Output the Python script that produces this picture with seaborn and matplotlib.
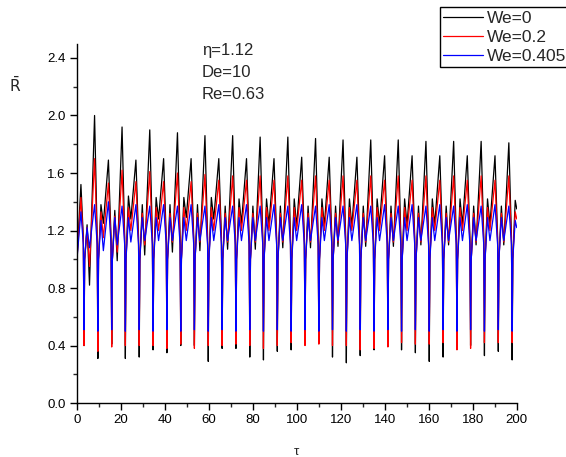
import matplotlib
matplotlib.use("Agg")
import matplotlib.pyplot as plt
from matplotlib.ticker import MultipleLocator, FormatStrFormatter
import seaborn as sns
import pandas as pd

# ---------------------------------------------------------------
# values
# ---------------------------------------------------------------
# times of the sharp collapses (minima)
collapse_t = [3.2, 9.5, 15.8, 22.0, 28.3, 34.6, 40.9, 47.2, 53.4, 59.7,
              66.0, 72.3, 78.6, 84.8, 91.1, 97.4, 103.7, 110.0, 116.2, 122.5,
              128.8, 135.1, 141.4, 147.6, 153.9, 160.2, 166.5, 172.8, 179.0, 185.3,
              191.6, 197.9]
# position of the bump / dip / main peak inside one cycle (tau)
edge_off = 0.3   # the collapse itself is almost vertical
bump_off = 1.4
dip_off = 2.5
peak_off = 1.5   # before next collapse

# We = 0 (black)
blk_first = 1.52
blk_min = [0.40, 0.31, 0.41, 0.31, 0.32, 0.37, 0.35, 0.40, 0.40, 0.29,
           0.38, 0.38, 0.32, 0.30, 0.36, 0.37, 0.41, 0.42, 0.32, 0.28,
           0.33, 0.37, 0.40, 0.37, 0.35, 0.29, 0.32, 0.39, 0.40, 0.33,
           0.36, 0.30]
blk_bump = [1.24, 1.38, 1.34, 1.44, 1.38, 1.43, 1.38, 1.43, 1.38, 1.43,
            1.37, 1.42, 1.37, 1.42, 1.37, 1.42, 1.37, 1.42, 1.37, 1.42,
            1.37, 1.42, 1.37, 1.42, 1.37, 1.42, 1.37, 1.42, 1.37, 1.42,
            1.37, 1.41]
blk_dip = [0.82, 1.25, 0.99, 1.28, 1.03, 1.28, 1.05, 1.29, 1.06, 1.28,
           1.07, 1.25, 1.07, 1.24, 1.08, 1.23, 1.08, 1.23, 1.09, 1.23,
           1.09, 1.24, 1.09, 1.24, 1.10, 1.24, 1.10, 1.24, 1.10, 1.24,
           1.10]
blk_peak = [2.00, 1.69, 1.92, 1.69, 1.90, 1.70, 1.88, 1.70, 1.86, 1.70,
            1.86, 1.70, 1.85, 1.70, 1.85, 1.71, 1.84, 1.71, 1.83, 1.71,
            1.83, 1.72, 1.83, 1.72, 1.82, 1.72, 1.82, 1.72, 1.82, 1.72,
            1.81]
blk_pre, blk_post = 1.15, 1.00
blk_end = 1.35

# We = 0.2 (red)
red_first = 1.43
red_min = [0.40, 0.36, 0.39, 0.40, 0.40, 0.40, 0.38, 0.41, 0.38, 0.40,
           0.40, 0.41, 0.40, 0.38, 0.40, 0.42, 0.40, 0.41, 0.40, 0.40,
           0.37, 0.38, 0.39, 0.42, 0.41, 0.41, 0.42, 0.37, 0.38, 0.42,
           0.42, 0.42]
red_bump = [1.22, 1.33, 1.30, 1.36, 1.32, 1.36, 1.32, 1.36, 1.32, 1.36,
            1.32, 1.36, 1.32, 1.36, 1.32, 1.36, 1.32, 1.36, 1.32, 1.36,
            1.32, 1.36, 1.32, 1.36, 1.32, 1.36, 1.32, 1.36, 1.32, 1.36,
            1.32, 1.33]
red_dip = [0.95, 1.15, 1.05, 1.20, 1.10, 1.20, 1.12, 1.20, 1.12, 1.20,
           1.12, 1.20, 1.12, 1.20, 1.12, 1.20, 1.12, 1.20, 1.12, 1.20,
           1.12, 1.20, 1.12, 1.20, 1.12, 1.20, 1.12, 1.20, 1.12, 1.20,
           1.12]
red_peak = [1.70, 1.53, 1.62, 1.54, 1.61, 1.54, 1.60, 1.54, 1.59, 1.55,
            1.58, 1.55, 1.58, 1.55, 1.58, 1.55, 1.58, 1.55, 1.58, 1.55,
            1.58, 1.55, 1.58, 1.55, 1.58, 1.55, 1.58, 1.55, 1.58, 1.55,
            1.58]
red_pre, red_post = 1.12, 1.00
red_end = 1.28

# We = 0.405 (blue)
blu_first = 1.33
blu_min = [0.51, 0.50, 0.51, 0.50, 0.51, 0.50, 0.51, 0.50, 0.51, 0.50,
           0.51, 0.50, 0.51, 0.50, 0.51, 0.50, 0.51, 0.50, 0.51, 0.50,
           0.51, 0.50, 0.51, 0.50, 0.51, 0.50, 0.51, 0.50, 0.51, 0.50,
           0.51, 0.50]
blu_bump = [1.22, 1.27, 1.29, 1.29, 1.29, 1.29, 1.29, 1.29, 1.29, 1.29,
            1.29, 1.29, 1.29, 1.29, 1.29, 1.29, 1.29, 1.29, 1.29, 1.29,
            1.29, 1.29, 1.29, 1.29, 1.29, 1.29, 1.29, 1.29, 1.29, 1.29,
            1.29, 1.27]
blu_dip = [1.08, 1.06, 1.10, 1.12, 1.13, 1.13, 1.13, 1.13, 1.13, 1.13,
           1.13, 1.13, 1.13, 1.13, 1.13, 1.13, 1.13, 1.13, 1.13, 1.13,
           1.13, 1.13, 1.13, 1.13, 1.13, 1.13, 1.13, 1.13, 1.13, 1.13,
           1.13]
blu_peak = [1.38, 1.40, 1.37, 1.38, 1.37, 1.38, 1.37, 1.38, 1.37, 1.38,
            1.37, 1.38, 1.37, 1.38, 1.37, 1.38, 1.37, 1.38, 1.37, 1.38,
            1.37, 1.38, 1.37, 1.38, 1.37, 1.38, 1.37, 1.38, 1.37, 1.38,
            1.37]
blu_pre, blu_post = 1.10, 1.00
blu_end = 1.22

labels = ['We=0', 'We=0.2', 'We=0.405']
colores = {'We=0': 'black', 'We=0.2': 'red', 'We=0.405': 'blue'}


def armar(nombre, first, mins, bumps, dips, peaks, pre, post, end):
    t = [0.0, 1.8]
    r = [1.0, first]
    for k, tc in enumerate(collapse_t):
        t += [tc - edge_off, tc, tc + edge_off, tc + bump_off]
        r += [pre, mins[k], post, bumps[k]]
        if k < len(peaks):
            t += [tc + dip_off, collapse_t[k + 1] - peak_off]
            r += [dips[k], peaks[k]]
    t.append(200.0)
    r.append(end)
    return pd.DataFrame({'tau': t, 'R': r, 'We': nombre})


df = pd.concat([
    armar('We=0', blk_first, blk_min, blk_bump, blk_dip, blk_peak,
          blk_pre, blk_post, blk_end),
    armar('We=0.2', red_first, red_min, red_bump, red_dip, red_peak,
          red_pre, red_post, red_end),
    armar('We=0.405', blu_first, blu_min, blu_bump, blu_dip, blu_peak,
          blu_pre, blu_post, blu_end),
], ignore_index=True)

# ---------------------------------------------------------------
# plot
# ---------------------------------------------------------------
sns.set_style('ticks')
plt.rcParams['font.family'] = ['Liberation Sans', 'DejaVu Sans']
plt.rcParams['mathtext.fontset'] = 'dejavusans'

fig = plt.figure(figsize=(5.66, 4.57), dpi=100)
ax = fig.add_axes([0.136, 0.118, 0.777, 0.7866])

sns.lineplot(data=df, x='tau', y='R', hue='We', hue_order=labels,
             palette=colores, sort=False, estimator=None,
             linewidth=0.9, ax=ax)

ax.set_xlim(0, 200)
ax.set_ylim(0, 2.5)
ax.xaxis.set_major_locator(MultipleLocator(20))
ax.xaxis.set_minor_locator(MultipleLocator(10))
ax.yaxis.set_major_locator(MultipleLocator(0.4))
ax.yaxis.set_minor_locator(MultipleLocator(0.2))
ax.yaxis.set_major_formatter(FormatStrFormatter('%.1f'))
ax.tick_params(which='major', direction='out', length=5, width=1,
               labelsize=9.5, colors='black', pad=3)
ax.tick_params(which='minor', direction='out', length=3, width=1)
sns.despine(ax=ax)
for s in ['left', 'bottom']:
    ax.spines[s].set_linewidth(1)
    ax.spines[s].set_color('black')

ax.set_xlabel('τ', fontsize=9.5)
ax.xaxis.set_label_coords(0.5, -0.12)
ax.set_ylabel(r'$\bar{\mathrm{R}}$', fontsize=11, rotation=0, va='center')
ax.yaxis.set_label_coords(-0.141, 0.885)

ax.text(0.284, 0.981, 'η=1.12', transform=ax.transAxes, fontsize=12,
        va='center', ha='left')
ax.text(0.284, 0.920, 'De=10', transform=ax.transAxes, fontsize=12,
        va='center', ha='left')
ax.text(0.284, 0.859, 'Re=0.63', transform=ax.transAxes, fontsize=12,
        va='center', ha='left')

handles, labs = ax.get_legend_handles_labels()
leg = ax.legend(handles, labs, loc='upper left',
                bbox_to_anchor=(440 / 566, 1 - 7.3 / 457),
                bbox_transform=fig.transFigure, fontsize=12.5,
                frameon=True, fancybox=False, framealpha=1,
                edgecolor='black', borderpad=0.2, labelspacing=0.22,
                handlelength=2.25, handletextpad=0.25, borderaxespad=0)
leg.get_frame().set_linewidth(1)

fig.savefig('out.png', dpi=100)
